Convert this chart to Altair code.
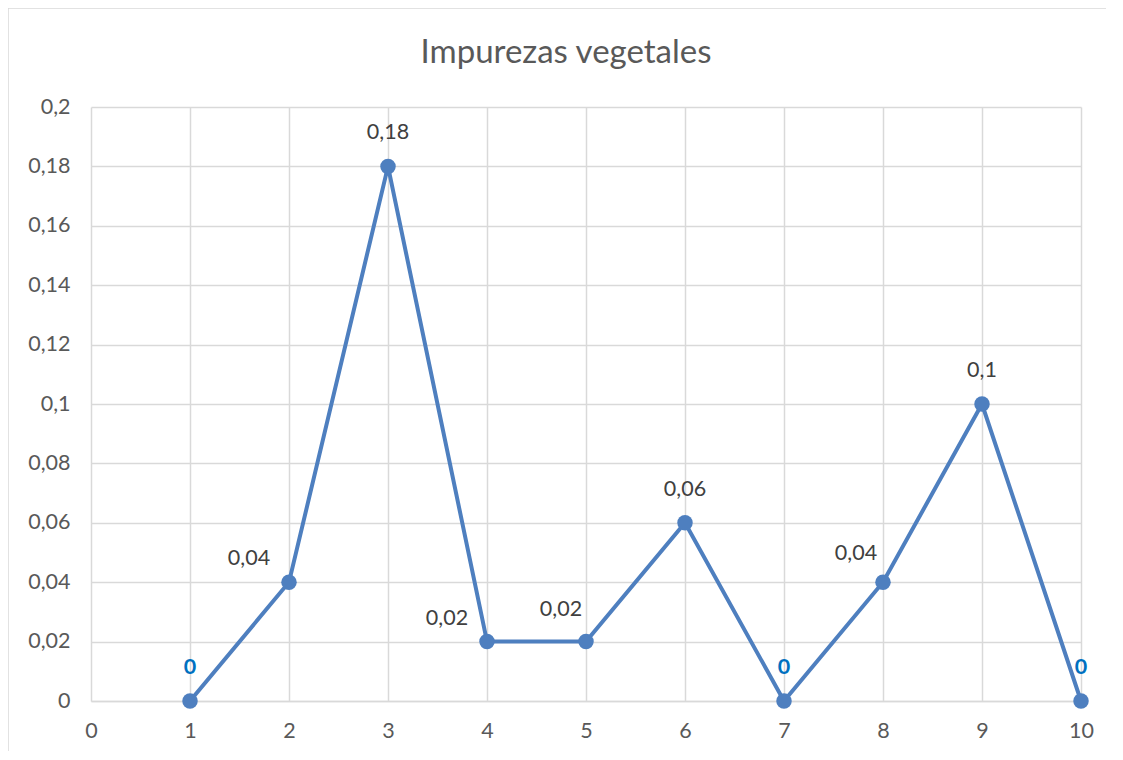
import altair as alt
import pandas as pd

x_vals = [1, 2, 3, 4, 5, 6, 7, 8, 9, 10]
y_vals = [0, 0.04, 0.18, 0.02, 0.02, 0.06, 0, 0.04, 0.1, 0]
y_ticks = [0, 0.02, 0.04, 0.06, 0.08, 0.1, 0.12, 0.14, 0.16, 0.18, 0.2]
x_ticks = [0, 1, 2, 3, 4, 5, 6, 7, 8, 9, 10]
title = "Impurezas vegetales"

df = pd.DataFrame({"x": x_vals, "y": y_vals})

FONT = "Lato"
LINE = "#4E7FBF"
GRID = "#D9D9D9"
TXT = "#595959"
FS = 21.5

xs = alt.Scale(domain=[0, 10], nice=False, zero=False)
ys = alt.Scale(domain=[0, 0.2], nice=False)

X = alt.X("x:Q", scale=xs, title=None,
          axis=alt.Axis(values=x_ticks, grid=True, gridColor=GRID, gridWidth=1.5,
                        domainColor=GRID, domainWidth=1.5, ticks=False,
                        labelFont=FONT, labelFontSize=FS, labelColor=TXT,
                        labelFlush=False, labelPadding=19))
Y = alt.Y("y:Q", scale=ys, title=None,
          axis=alt.Axis(values=y_ticks, grid=True, gridColor=GRID, gridWidth=1.5,
                        domain=False, ticks=False,
                        labelFont=FONT, labelFontSize=FS, labelColor=TXT,
                        labelPadding=21, labelFlush=False,
                        labelExpr="replace(format(datum.value, '~g'), '.', ',')"))

base = alt.Chart(df).encode(x=X, y=Y)

line = base.mark_line(color=LINE, strokeWidth=4)
pts = base.mark_circle(color=LINE, size=240, opacity=1)

lab = base.transform_calculate(
    label="replace(format(datum.y, '~g'), '.', ',')"
).encode(text="label:N")

def txt(filt, dx, dy, color="#404040", weight="normal"):
    return lab.transform_filter(filt).mark_text(
        font=FONT, fontSize=FS, color=color, fontWeight=weight,
        dx=dx, dy=dy, baseline="middle", align="center")

t_center = txt("datum.y > 0 && (datum.x == 3 || datum.x == 6 || datum.x == 9)", 0, -33)
t_left = txt("datum.x == 2 || datum.x == 4", -40, -23)
t_five = txt("datum.x == 5", -25, -32)
t_eight = txt("datum.x == 8", -27, -28)
t_zero = txt("datum.y == 0", 0, -33, color="#0070C0", weight="bold")

one = pd.DataFrame({"t": [title]})
border = alt.Chart(one).mark_rect(
    fill=None, stroke="#D9D9D9", strokeWidth=1.5
).encode(x=alt.value(-83), x2=alt.value(1200), y=alt.value(-99), y2=alt.value(720))

title_mark = alt.Chart(one).mark_text(
    font=FONT, fontSize=33, color=TXT, align="center", baseline="middle"
).encode(x=alt.value(475), y=alt.value(-54), text="t:N")

chart = alt.layer(border, line, pts, t_center, t_left, t_five, t_eight, t_zero, title_mark).properties(
    width=990, height=594,
    autosize=alt.AutoSizeParams(type="none"),
    padding={"left": 83, "top": 99, "right": 25, "bottom": 50},
).configure_view(stroke=None)

chart.save("out.html", embed_options={"renderer": "svg", "actions": False})
